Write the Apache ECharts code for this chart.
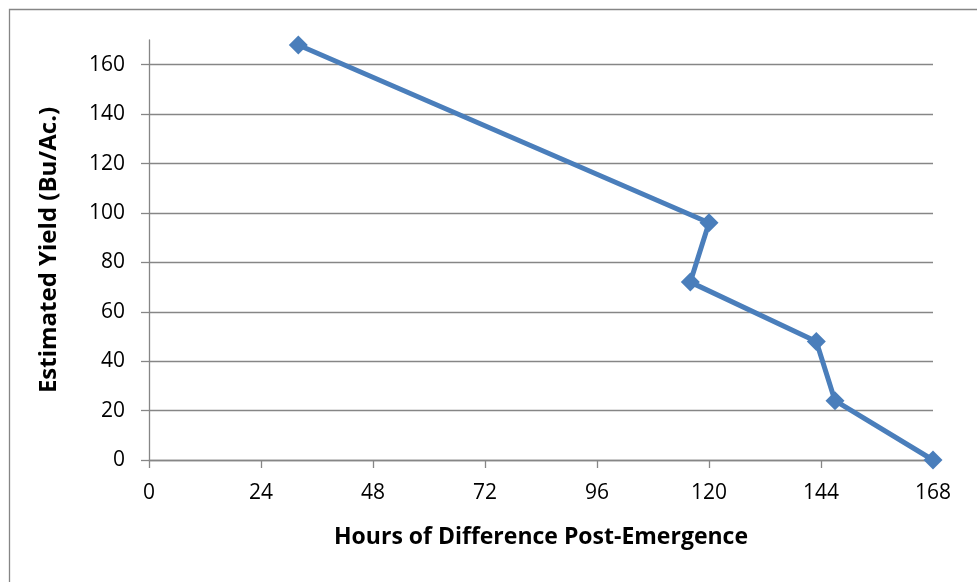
<!DOCTYPE html>
<html>
<head>
<meta charset="utf-8">
<script src="https://cdn.jsdelivr.net/npm/echarts@6/dist/echarts.min.js"></script>
<style>
html,body{margin:0;padding:0;background:#fff;}
#chart{width:977px;height:582px;}
</style>
</head>
<body>
<div id="chart"></div>
<script>
const hours = [32, 120, 116, 143, 147, 168];
const yieldValues = [168, 96, 72, 48, 24, 0];
const xTicks = [0, 24, 48, 72, 96, 120, 144, 168];
const yTicks = [0, 20, 40, 60, 80, 100, 120, 140, 160];
const xTitle = 'Hours of Difference Post-Emergence';
const yTitle = 'Estimated Yield (Bu/Ac.)';

const FONT = '"Open Sans", "Noto Sans", sans-serif';
const GRAY = '#868686';
const chart = echarts.init(document.getElementById('chart'), null, {renderer: 'canvas'});
chart.setOption({
  backgroundColor: '#ffffff',
  animation: false,
  graphic: [{
    type: 'rect',
    shape: {x: 9.5, y: 9.5, width: 1000, height: 1000},
    style: {fill: 'none', stroke: GRAY, lineWidth: 1.3},
    silent: true
  }],
  grid: {left: 149, top: 40, width: 784, height: 420},
  xAxis: {
    type: 'value', min: 0, max: 168, interval: 24,
    name: xTitle, nameLocation: 'middle', nameGap: 66,
    nameTextStyle: {fontFamily: FONT, fontSize: 23, fontWeight: 'bold', color: '#000'},
    axisLine: {show: true, lineStyle: {color: GRAY, width: 1.3}},
    axisTick: {show: true, length: 8, inside: false, customValues: xTicks, lineStyle: {color: GRAY, width: 1.3}},
    axisLabel: {fontFamily: FONT, fontSize: 21, color: '#000', margin: 23, customValues: xTicks},
    splitLine: {show: false}
  },
  yAxis: {
    type: 'value', min: 0, max: 170,
    name: yTitle, nameLocation: 'middle', nameGap: 88, nameRotate: 90,
    nameTextStyle: {fontFamily: FONT, fontSize: 24, fontWeight: 'bold', color: '#000'},
    axisLine: {show: true, lineStyle: {color: GRAY, width: 1.3}},
    axisTick: {show: true, length: 8, inside: false, customValues: yTicks, lineStyle: {color: GRAY, width: 1.3}},
    axisLabel: {fontFamily: FONT, fontSize: 21, color: '#000', margin: 24, customValues: yTicks},
    splitLine: {show: true, lineStyle: {color: GRAY, width: 1.3}}
  },
  series: [{
    type: 'line',
    data: hours.map((h, i) => [h, yieldValues[i]]),
    symbol: 'diamond',
    symbolSize: 19,
    lineStyle: {color: '#4A7EBB', width: 5},
    itemStyle: {color: '#4A7EBB'},
    clip: false,
    z: 5
  }]
});
</script>
</body>
</html>
